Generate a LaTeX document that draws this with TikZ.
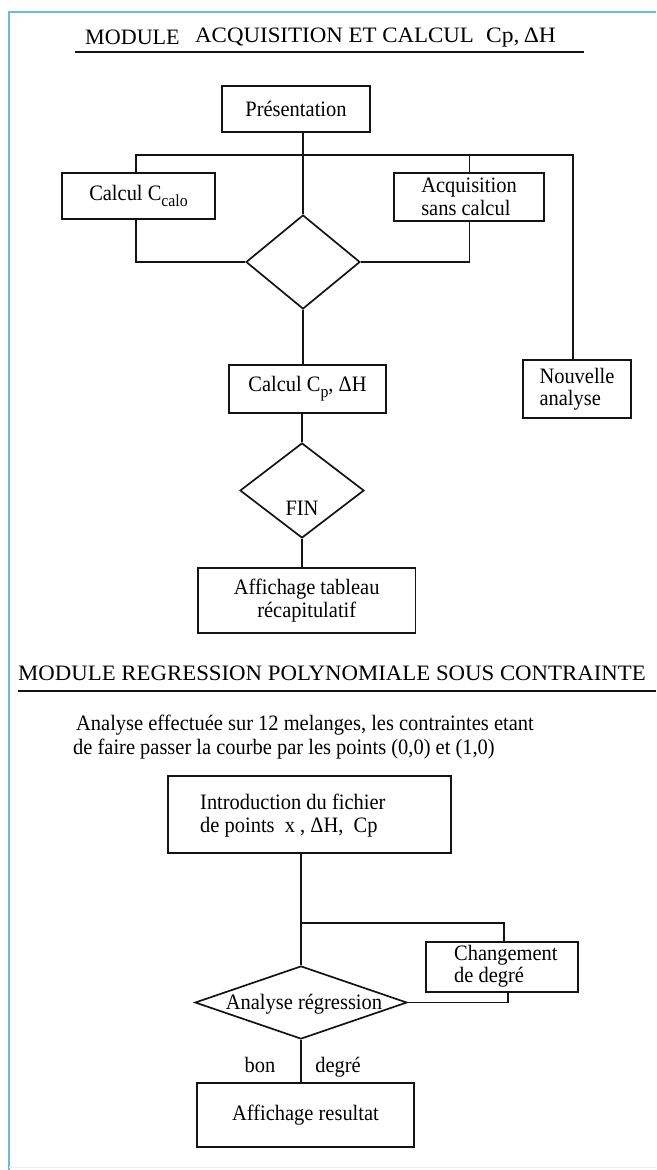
\documentclass[tikz,border=0pt]{standalone}
\usepackage{fontspec}
\usepackage{graphicx}
\setmainfont{Liberation Serif}[FakeStretch=0.93]
\usetikzlibrary{shapes.geometric}
\newcommand{\bodyfont}{\fontsize{22}{22.5}\selectfont}
\newcommand{\subtxt}[1]{\raisebox{-0.28em}{\fontsize{17}{17}\selectfont #1}}
\tikzset{
  box/.style={draw=black!92, line width=1.7pt, rectangle, inner sep=0pt, font=\bodyfont},
  dia/.style={draw=black!92, line width=1.7pt, diamond, inner sep=0pt, font=\bodyfont},
  conn/.style={draw=black!92, line width=1.7pt},
  txt/.style={inner sep=0pt, font=\bodyfont},
  frame/.style={draw={rgb,255:red,110;green,185;blue,225}, line width=2pt},
}
\begin{document}
\begin{tikzpicture}[x=1pt,y=-1pt]
\useasboundingbox (0,0) rectangle (656,1170);
% frame
\draw[frame] (656,12) -- (9,12) -- (9,1170);
\draw[black!7, line width=1pt] (9,1167) -- (656,1167);

% ---------- Module 1 title
\node[txt, anchor=base west] (t1a) at (85,44) {\scalebox{1.08}[1]{\fontsize{22}{24}\selectfont MODULE}};
\node[txt, anchor=base west] (t1b) at (195,42) {\scalebox{1.12}[1]{\fontsize{22}{24}\selectfont ACQUISITION ET CALCUL}};
\node[txt, anchor=base west] (t1c) at (486,42) {\scalebox{1.15}[1]{\fontsize{22}{24}\selectfont Cp,\,ΔH}};
\draw[black!92, line width=2.4pt] (75,52) -- (584,52);

% ---------- Module 1 nodes
\node[box, minimum width=148pt, minimum height=46pt] (pres) at (296,109) {Présentation};
\node[box, minimum width=153pt, minimum height=46pt] (ccalo) at (138.5,196) {Calcul C\subtxt{calo}};
\node[box, minimum width=150pt, minimum height=48pt, align=left] (acq) at (469,197) {Acquisition\\sans calcul};
\node[dia, minimum width=114pt, minimum height=94pt] (d1) at (303,262) {};
\node[box, minimum width=157pt, minimum height=48pt] (calcp) at (307.5,389) {Calcul C\subtxt{p}, ΔH};
\node[box, minimum width=108pt, minimum height=58pt, align=left] (nouv) at (577,389) {Nouvelle\\analyse};
\node[dia, minimum width=124pt, minimum height=95pt] (fin) at (302,490.5) {};
\node[txt] (fint) at (302,508) {FIN};
\node[box, minimum width=217.5pt, minimum height=65pt, align=center] (tab) at (306.75,600.5) {Affichage tableau\\récapitulatif};

\coordinate (b1) at (136,155);
\coordinate (b2) at (573,155);
\coordinate (b3) at (469.5,155);

\draw[conn] (d1.north |- pres.south) -- (d1.north);
\draw[conn] (b1 |- ccalo.north) -- (b1) -- (b2) -- (b2 |- nouv.north);
\draw[conn] (b3) -- (b3 |- acq.north);
\draw[conn] (b1 |- ccalo.south) -- (b1 |- d1.west) -- (d1.west);
\draw[conn] (d1.east) -- (b3 |- d1.east) -- (b3 |- acq.south);
\draw[conn] (d1.south) -- (d1.south |- calcp.north);
\draw[conn] (fin.north |- calcp.south) -- (fin.north);
\draw[conn] (fin.south) -- (fin.south |- tab.north);

% ---------- Module 2 title
\node[txt, anchor=base west] (t2) at (18,680) {\scalebox{1.115}[1]{\fontsize{22}{24}\selectfont MODULE REGRESSION POLYNOMIALE SOUS CONTRAINTE}};
\draw[black!92, line width=2.2pt] (18,691) -- (656,691);

\node[txt, anchor=base west] (l1) at (76,730) {Analyse effectuée sur 12 melanges, les contraintes etant};
\node[txt, anchor=base west] (l2) at (73,754) {de faire passer la courbe par les points (0,0) et (1,0)};

% ---------- Module 2 nodes
\node[box, minimum width=283pt, minimum height=77pt] (intro) at (309.5,814.5) {};
\node[txt, anchor=west, align=left, font=\fontsize{22}{23}\selectfont] (introt) at (200,816) {Introduction du fichier\\de points\ \ x , ΔH,\ \ Cp};
\node[box, minimum width=152pt, minimum height=50pt] (chg) at (502,967) {};
\node[txt, anchor=west, align=left] (chgt) at (454,966) {Changement\\de degré};
\node[dia, minimum width=212pt, minimum height=73pt] (d2) at (301,1002.5) {};
\node[txt] (d2t) at (304,1004) {Analyse régression};
\node[box, minimum width=217pt, minimum height=64pt] (res) at (305.5,1115) {Affichage resultat};

\coordinate (b4) at (301,923);
\coordinate (b5) at (504,923);
\coordinate (b6) at (508,1002.5);

\draw[conn] (d2.north |- intro.south) -- (d2.north);
\draw[conn] (b4) -- (b5) -- (b5 |- chg.north);
\draw[conn] (d2.east) -- (b6) -- (b6 |- chg.south);
\draw[conn] (d2.south) -- (d2.south |- res.north);

\node[txt, anchor=base] (bon) at (260,1072) {bon};
\node[txt, anchor=base] (deg) at (338,1072) {degré};
\end{tikzpicture}
\end{document}
